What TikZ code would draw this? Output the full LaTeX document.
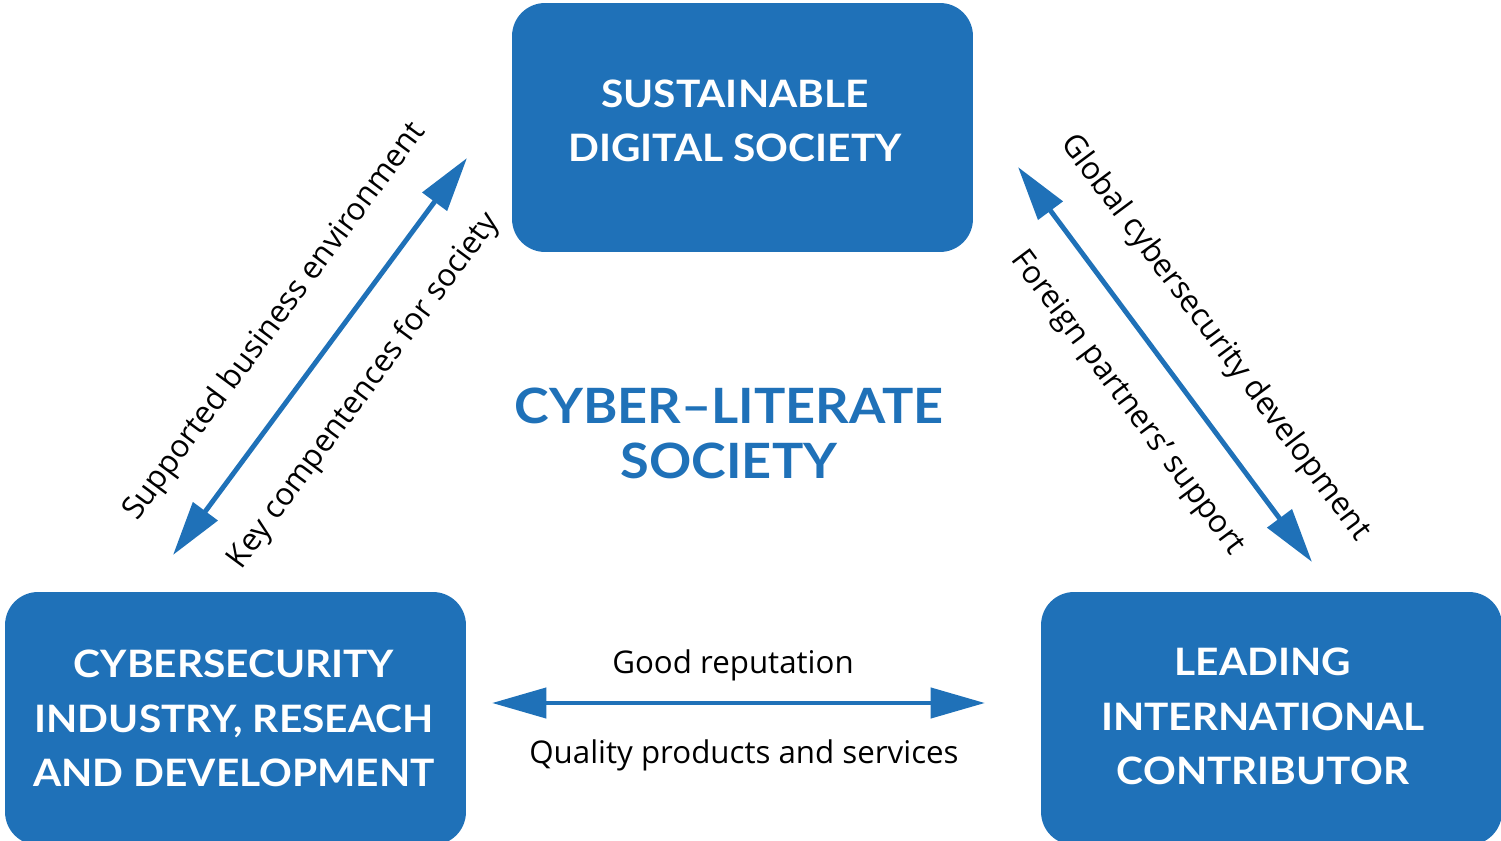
\documentclass[tikz,border=0pt]{standalone}
\usepackage{fontspec}
\setmainfont{Open Sans}
\newfontfamily\titlefont{Lato}[FakeStretch=1.075]
\usetikzlibrary{arrows.meta}
\definecolor{cblue}{RGB}{31,113,184}
\begin{document}
\begin{tikzpicture}[x=0.02cm,y=-0.02cm,
  box/.style={fill=cblue, draw=none, rounded corners=0.66cm, inner sep=0pt,
              minimum width=9.22cm, minimum height=4.98cm},
  boxtext/.style={text=white, inner sep=0pt, align=center,
              font=\titlefont\bfseries\fontsize{21.5}{31}\selectfont},
  midtext/.style={text=cblue, inner sep=0pt, align=center,
              font=\titlefont\bfseries\fontsize{27.7}{31.3}\selectfont},
  lab/.style={text=black, inner sep=0pt, font=\fontsize{17.8}{21}\selectfont},
  dblarrow/.style={draw=cblue, line width=2.8pt,
              {Triangle[length=31pt,width=17pt]}-{Triangle[length=31pt,width=17pt]}}
]
\path[use as bounding box] (0,0) rectangle (1501,841);
\clip (0,0) rectangle (1501,841);

% boxes
\node[box] (sds) at (742.5,127.5) {};
\node[box, minimum height=5.06cm] (cyb) at (235.5,718.5) {};
\node[box, minimum height=5.06cm] (lic) at (1271.5,718.5) {};

\node[boxtext] (sdsT) at (735,121) {SUSTAINABLE\\DIGITAL SOCIETY};
\node[boxtext] (cybT) at (234,718.5) {CYBERSECURITY\\INDUSTRY, RESEACH\\AND DEVELOPMENT};
\node[boxtext] (licT) at (1263,716.5) {LEADING\\INTERNATIONAL\\CONTRIBUTOR};

\node[midtext] (cls) at (729,433) {CYBER–LITERATE\\SOCIETY};

% arrows
\coordinate (l1) at (173,555);
\coordinate (l2) at (467,158);
\coordinate (r1) at (1018,167);
\coordinate (r2) at (1312,562);
\coordinate (h1) at (492,703);
\coordinate (h2) at (985,703);
\draw[dblarrow] (l1) -- (l2);
\draw[dblarrow] (r1) -- (r2);
\draw[dblarrow] (h1) -- (h2);

% labels
\node[lab, rotate=53.5] (sbe) at (275,322) {Supported business environment};
\node[lab, rotate=53.5] (kcs) at (364,391) {Key compentences for society};
\node[lab, rotate=-53.3] (gcd) at (1215,338) {Global cybersecurity development};
\node[lab, rotate=-53.3] (fps) at (1127,403) {Foreign partners’ support};
\node[lab, anchor=base] (gr) at (733,673) {Good reputation};
\node[lab, anchor=base] (qps) at (744,763) {Quality products and services};
\end{tikzpicture}
\end{document}
